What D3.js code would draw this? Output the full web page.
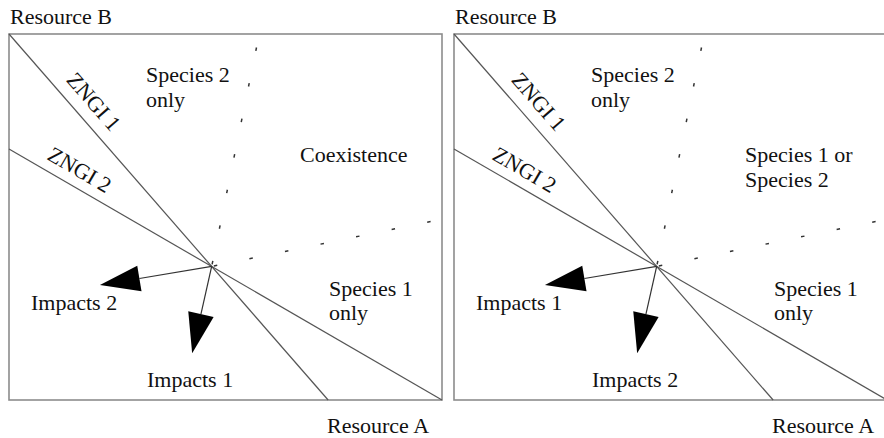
<!DOCTYPE html>
<html>
<head>
<meta charset="utf-8">
<script src="https://cdn.jsdelivr.net/npm/d3@7"></script>
<style>
  body { margin: 0; background: #fff; }
  text { font-family: "Liberation Serif", "Times New Roman", serif; font-size: 22px; fill: #111; }
</style>
</head>
<body>
<svg id="chart" width="884" height="438"></svg>
<script>
// resource plane, both axes 0..10
const zngi1 = [[0, 10], [7.37, 0]];
const zngi2 = [[0, 6.86], [10, 0]];
// impact vector tips: [down arrow, left arrow]
const impactTips = [[4.23, 1.28], [2.10, 3.14]];
// ends of the dashed boundaries (up, right)
const boundaryEnds = [[5.78, 10], [10, 4.94]];

const zngiNames = ["ZNGI 1", "ZNGI 2"];
const axisNames = ["Resource A", "Resource B"];
const topLeftLabel = ["Species 2", "only"];
const bottomRightLabel = ["Species 1", "only"];
const middleLabels = [["Coexistence"], ["Species 1 or", "Species 2"]];
// [label under down arrow, label under left arrow] per panel
const impactLabels = [["Impacts 1", "Impacts 2"], ["Impacts 2", "Impacts 1"]];

const svg = d3.select("#chart");
const panelOffsets = [0, 445];

const x = d3.scaleLinear().domain([0, 10]).range([9, 442]);
const y = d3.scaleLinear().domain([0, 10]).range([400, 34]);

function intersect(a, b) {
    const m1 = (a[1][1] - a[0][1]) / (a[1][0] - a[0][0]);
    const m2 = (b[1][1] - b[0][1]) / (b[1][0] - b[0][0]);
    const c1 = a[0][1] - m1 * a[0][0];
    const c2 = b[0][1] - m2 * b[0][0];
    const xi = (c2 - c1) / (m1 - m2);
    return [xi, m1 * xi + c1];
}

const cross = intersect(zngi1, zngi2);

panelOffsets.forEach((dx, pi) => {
    const g = svg.append("g").attr("transform", "translate(" + dx + ",0)");

    //BOX
    g.append("rect")
        .attr("x", x(0)).attr("y", y(10))
        .attr("width", x(10) - x(0)).attr("height", y(0) - y(10))
        .attr("fill", "none")
        .attr("stroke", "#8c8c8c")
        .attr("stroke-width", 1.6);

    //ZNGI lines
    g.selectAll(".zngi").data([zngi1, zngi2]).enter().append("line")
        .attr("class", "zngi")
        .attr("x1", d => x(d[0][0])).attr("y1", d => y(d[0][1]))
        .attr("x2", d => x(d[1][0])).attr("y2", d => y(d[1][1]))
        .attr("stroke", "#555")
        .attr("stroke-width", 1.2);

    //ZNGI labels along the lines
    const along = [0.22, 0.143];
    const offs = [12, 10];
    g.selectAll(".zlab").data([zngi1, zngi2]).enter().append("text")
        .attr("class", "zlab")
        .attr("text-anchor", "middle")
        .attr("transform", (d, i) => {
            const x0 = x(d[0][0]), y0 = y(d[0][1]), x1 = x(d[1][0]), y1 = y(d[1][1]);
            const a = Math.atan2(y1 - y0, x1 - x0);
            const px = x0 + along[i] * (x1 - x0) + offs[i] * Math.sin(a);
            const py = y0 + along[i] * (y1 - y0) - offs[i] * Math.cos(a);
            return "translate(" + [px, py] + ") rotate(" + (a * 180 / Math.PI) + ")";
        })
        .text((d, i) => zngiNames[i]);

    //dashed boundaries
    g.selectAll(".bound").data(boundaryEnds).enter().append("line")
        .attr("class", "bound")
        .attr("x1", x(cross[0])).attr("y1", y(cross[1]))
        .attr("x2", d => x(d[0])).attr("y2", d => y(d[1]))
        .attr("stroke", "#333")
        .attr("stroke-width", 1.5)
        .attr("stroke-dasharray", "3.5,32.8")
        .attr("stroke-dashoffset", 34.1);

    //impact arrows
    const ix = x(cross[0]), iy = y(cross[1]);
    const arrows = impactTips.map(t => {
        const tx = x(t[0]), ty = y(t[1]);
        const len = Math.hypot(tx - ix, ty - iy);
        const ux = (tx - ix) / len, uy = (ty - iy) / len;
        const bx = tx - 40 * ux, by = ty - 40 * uy;
        return { tx, ty, bx, by, nx: -uy, ny: ux };
    });

    g.selectAll(".imp").data(arrows).enter().append("line")
        .attr("class", "imp")
        .attr("x1", ix).attr("y1", iy)
        .attr("x2", d => d.bx).attr("y2", d => d.by)
        .attr("stroke", "#333")
        .attr("stroke-width", 1.2);

    g.selectAll(".head").data(arrows).enter().append("path")
        .attr("class", "head")
        .attr("d", d => "M" + [d.tx, d.ty] +
            "L" + [d.bx + 13 * d.nx, d.by + 13 * d.ny] +
            "L" + [d.bx - 13 * d.nx, d.by - 13 * d.ny] + "Z")
        .attr("fill", "#000");

    //region labels
    const blocks = [
        { lines: topLeftLabel, x: 146, y: 82, lh: 25 },
        { lines: middleLabels[pi], x: 300, y: 162, lh: 25 },
        { lines: bottomRightLabel, x: 329, y: 296, lh: 24 },
        { lines: [impactLabels[pi][0]], x: 147, y: 387, lh: 0 },
        { lines: [impactLabels[pi][1]], x: 31, y: 310, lh: 0 }
    ];
    blocks.forEach(b => {
        g.append("g").selectAll("text").data(b.lines).enter().append("text")
            .attr("x", b.x)
            .attr("y", (d, i) => b.y + i * b.lh)
            .text(d => d);
    });

    //axis names
    g.append("text").attr("x", 10).attr("y", 24).text(axisNames[1]);
    g.append("text").attr("x", 327).attr("y", 433).text(axisNames[0]);
});
</script>
</body>
</html>
